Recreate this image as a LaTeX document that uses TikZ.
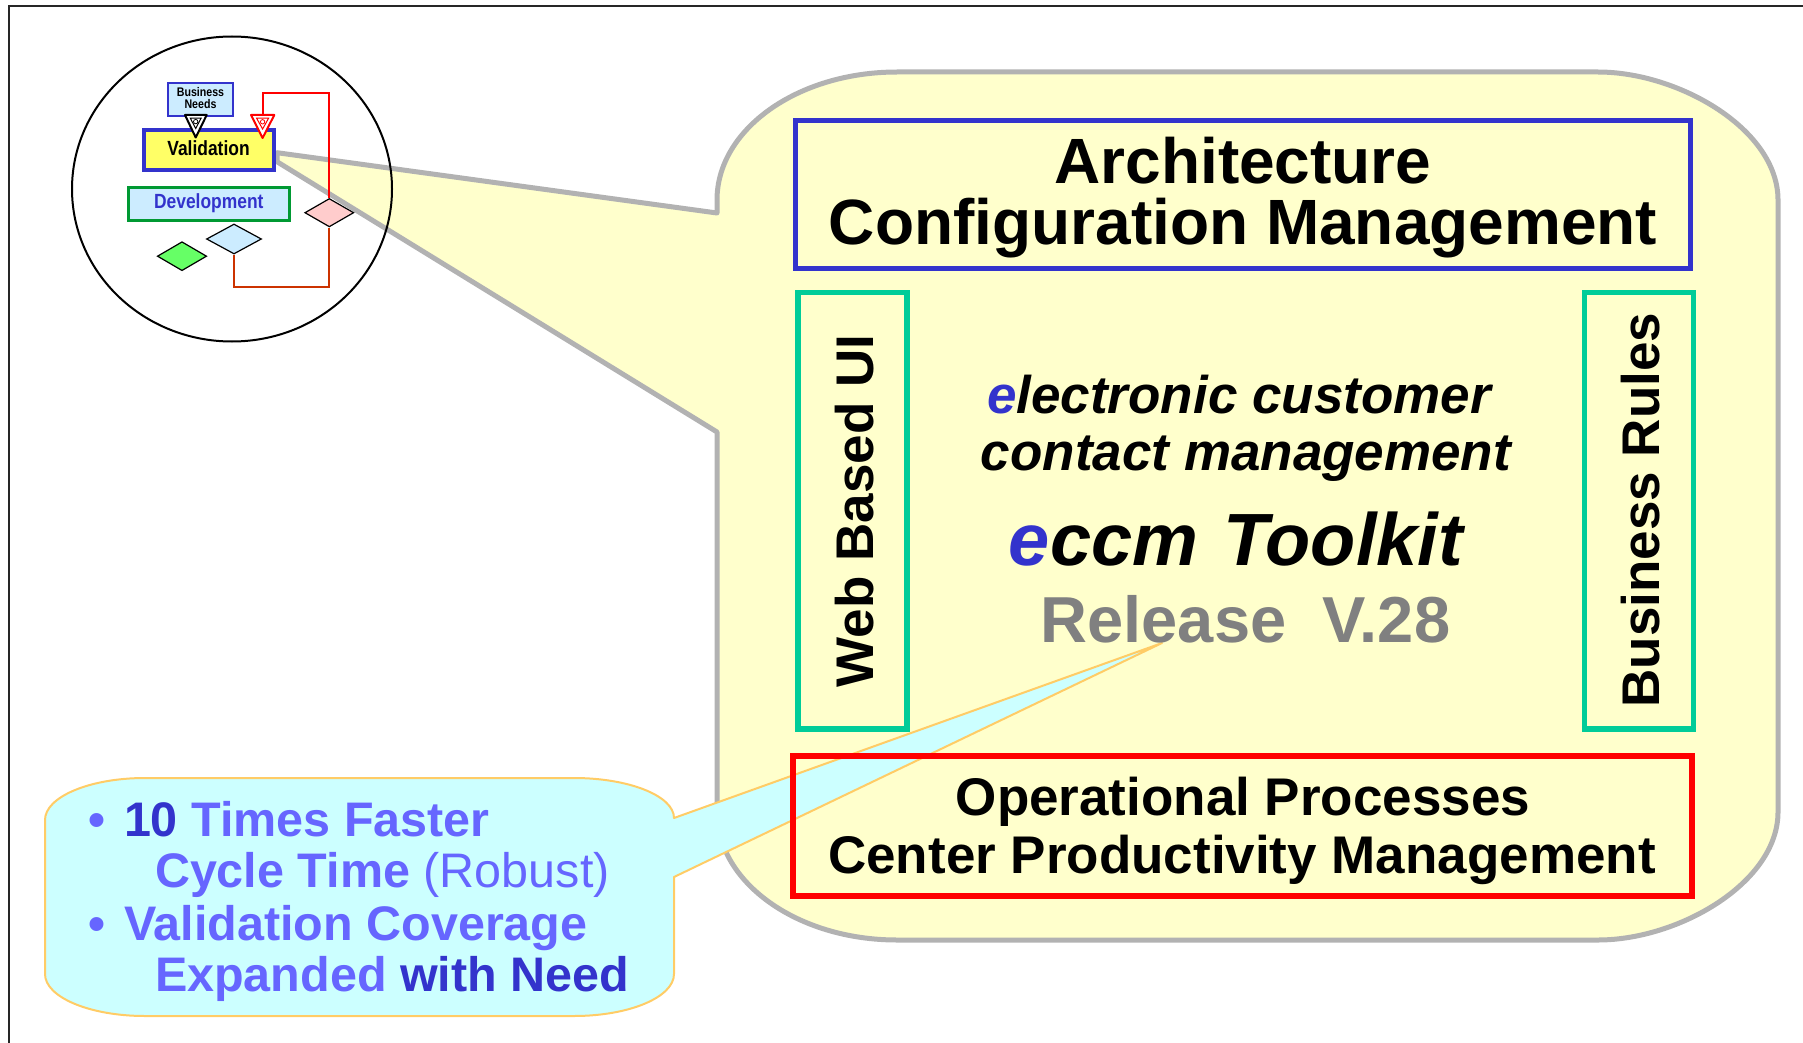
\documentclass[tikz,border=0pt]{standalone}
\usepackage{fontspec}
\setmainfont{Liberation Sans}
\usetikzlibrary{shapes.geometric}

\definecolor{bubblefill}{HTML}{FFFFCC}
\definecolor{bubbleline}{HTML}{B2B2B2}
\definecolor{archblue}{HTML}{3333CC}
\definecolor{softblue}{HTML}{6666FF}
\definecolor{sidegreen}{HTML}{00CC99}
\definecolor{opsred}{HTML}{FF0000}
\definecolor{calloutfill}{HTML}{CCFFFF}
\definecolor{calloutline}{HTML}{FFCC66}
\definecolor{relgray}{HTML}{808080}
\definecolor{paleblue}{HTML}{CCECFF}
\definecolor{valyellow}{HTML}{FFFF66}
\definecolor{devgreen}{HTML}{009933}
\definecolor{diapink}{HTML}{FFCCCC}
\definecolor{diagreen}{HTML}{66FF66}
\definecolor{loopred}{HTML}{CC3300}

\newcommand\pxsize[1]{\fontsize{#1pt}{#1pt}\selectfont}

\begin{document}
\begin{tikzpicture}[x=1pt,y=-1pt,
  lbl/.style={inner sep=0pt, outer sep=0pt, anchor=base},
  lblw/.style={inner sep=0pt, outer sep=0pt, anchor=base west},
  panel/.style={draw, inner sep=0pt, outer sep=0pt},
  dia/.style={diamond, draw=black, line width=1.2pt, inner sep=0pt},
  tagfont/.style={font=\pxsize{48.5}\bfseries, text=softblue},
  bigfont/.style={font=\pxsize{64}\bfseries},
  midfont/.style={font=\pxsize{53}\bfseries},
]
\useasboundingbox (0,0) rectangle (1803,1043);

% page frame (top and left edges)
\coordinate (fbl) at (9,1043);
\coordinate (ftl) at (9,6);
\coordinate (ftr) at (1803,6);
\draw[line width=2pt, black!85] (fbl) -- (ftl) -- (ftr);

% large rounded callout with its pointer into the lens
\path[fill=bubblefill, draw=bubbleline, line width=5pt, line join=round]
  (717,432) -- (717,812)
  .. controls (717,882.7) and (797.6,940) .. (897,940)
  -- (1598,940)
  .. controls (1678.6,940) and (1778,882.7) .. (1778,812)
  -- (1778,200)
  .. controls (1778,129.3) and (1678.6,72) .. (1598,72)
  -- (897,72)
  .. controls (797.6,72) and (717,129.3) .. (717,200)
  -- (717,213) -- (277,152.7) -- (277,161.7) -- cycle;

% small cyan callout pointing at the release line
\path[fill=calloutfill, draw=calloutline, line width=2pt, line join=round]
  (674,877) -- (674,974)
  .. controls (674,997.2) and (629.2,1016) .. (574,1016)
  -- (145,1016)
  .. controls (89.8,1016) and (45,997.2) .. (45,974)
  -- (45,820)
  .. controls (45,796.8) and (89.8,778) .. (145,778)
  -- (574,778)
  .. controls (629.2,778) and (674,796) .. (674,818)
  -- (1162,643) -- cycle;

% framed panels
\node[panel, draw=archblue, line width=5pt, minimum width=895pt, minimum height=148pt] (arch) at (1243,194.5) {};
\node[panel, draw=sidegreen, line width=5.4pt, minimum width=109pt, minimum height=436.3pt] (webbox) at (852.5,510.9) {};
\node[panel, draw=sidegreen, line width=5.4pt, minimum width=109pt, minimum height=436.3pt] (rulesbox) at (1638.8,510.9) {};
\node[panel, draw=opsred, line width=6pt, minimum width=899.4pt, minimum height=140pt] (ops) at (1242.7,826) {};

% panel texts
\node[lbl, bigfont] (archA) at (1243,183) {Architecture};
\node[lbl, bigfont] (archB) at (1243,244) {Configuration Management};
\node[lbl, midfont, rotate=90] (webT) at (873.6,511) {Web Based UI};
\node[lbl, midfont, rotate=90] (rulesT) at (1659,510) {Business Rules};
\node[lbl, midfont] (opsA) at (1243,815) {Operational Processes};
\node[lbl, midfont] (opsB) at (1242,873) {Center Productivity Management};

% centre texts
\node[lbl, font=\pxsize{53}\bfseries\itshape] (ecA) at (1239,413) {\textcolor{archblue}{e}lectronic customer};
\node[lbl, font=\pxsize{53}\bfseries\itshape] (ecB) at (1246,470) {contact management};
\node[lbl, font=\pxsize{74}\bfseries\itshape] (tool) at (1236,565) {\textcolor{archblue}{e}ccm\hspace{0.34em}Toolkit};
\node[lbl, font=\pxsize{65}\bfseries, text=relgray] (rel) at (1245.5,642) {Release~~V.28};

% callout bullet points
\node[lblw, tagfont] (bulA) at (88,836) {\textbullet};
\node[lblw, tagfont] (ptA) at (124,836) {\textcolor{archblue}{10} Times Faster};
\node[lblw, tagfont] (ptB) at (155,887) {Cycle Time {\mdseries(Robust)}};
\node[lblw, tagfont] (bulB) at (88,940) {\textbullet};
\node[lblw, tagfont] (ptC) at (124,940) {Validation Coverage};
\node[lblw, tagfont] (ptD) at (155,991) {Expanded \textcolor{archblue}{with Need}};

% lens with the miniature process flow
\node[ellipse, draw=black, line width=2pt, minimum width=320pt, minimum height=305pt, inner sep=0pt] (lens) at (232,189) {};

\node[panel, fill=paleblue, draw=archblue, line width=2pt, minimum width=65pt, minimum height=33pt] (needs) at (200.8,99.2) {};
\node[lbl, font=\pxsize{12.5}\bfseries] (needsA) at (200.5,96.7) {\scalebox{0.85}[1]{Business}};
\node[lbl, font=\pxsize{12.5}\bfseries] (needsB) at (200.5,109) {\scalebox{0.85}[1]{Needs}};

\node[panel, fill=valyellow, draw=archblue, line width=4pt, minimum width=130.3pt, minimum height=39.7pt] (val) at (208.85,149.85) {};
\node[lbl, font=\pxsize{20.5}\bfseries] (valT) at (208.5,155.3) {\scalebox{0.85}[1]{Validation}};

\node[panel, fill=paleblue, draw=devgreen, line width=3pt, minimum width=161.3pt, minimum height=33.6pt] (dev) at (208.85,204) {};
\node[lbl, font=\pxsize{20.5}\bfseries, text=archblue] (devT) at (208.8,208.3) {\scalebox{0.85}[1]{Development}};

\node[dia, fill=diapink, minimum width=49pt, minimum height=28.4pt] (pinkD) at (329.3,212.7) {};
\node[dia, fill=paleblue, minimum width=55pt, minimum height=30pt] (blueD) at (234,239) {};
\node[dia, fill=diagreen, minimum width=49.4pt, minimum height=29pt] (greenD) at (182,256.2) {};

% feedback loops
\coordinate (redTop) at (262.6,115);
\coordinate (redCorner) at (329.3,93.3);
\draw[opsred, line width=2pt] (redTop) |- (redCorner) -- (pinkD.north);
\coordinate (loopCorner) at (329.3,286.7);
\draw[loopred, line width=2pt] (blueD.south) |- (loopCorner) -- (pinkD.south);

% merge markers
\draw[black, line width=2pt, fill=white, line join=round] (185,115) -- (206.7,115) -- (195.7,137.5) -- cycle;
\draw[black, line width=1pt] (190.3,118.2) -- (201.1,118.2) -- (195.7,128.5) -- cycle;
\draw[black, line width=0.8pt] (195.7,121.6) circle (2.2pt);
\draw[opsred, line width=2pt, fill=white, line join=round] (251,115) -- (274.3,115) -- (262.6,138) -- cycle;
\draw[opsred, line width=1pt] (256.6,118.2) -- (268.6,118.2) -- (262.6,129) -- cycle;
\draw[opsred, line width=0.8pt] (262.6,121.8) circle (2.2pt);
\end{tikzpicture}
\end{document}
